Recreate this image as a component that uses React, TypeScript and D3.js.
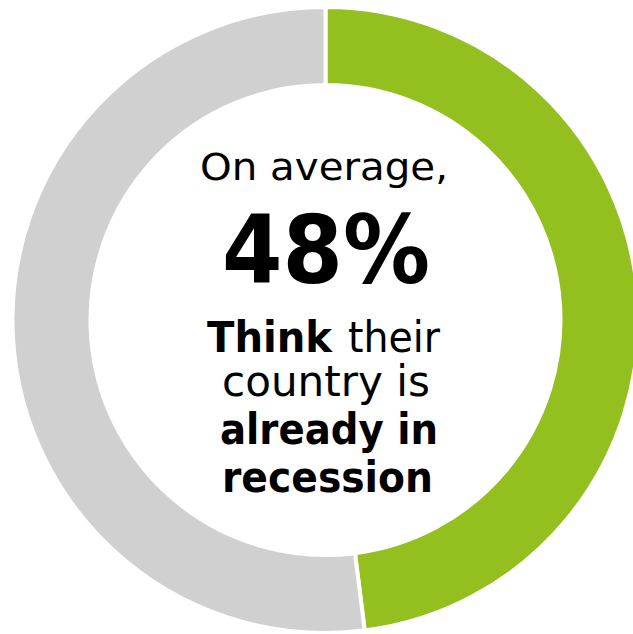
import React from "react";
import * as d3 from "d3";

const categories = ["Think their country is already in recession", "Other"];
const values = [48, 52];
const headline = "48%";
const intro = "On average,";
const captionLines = [
  [{ t: "Think", b: true }, { t: "their", b: false }],
  [{ t: "country is", b: false }],
  [{ t: "already in", b: true }],
  [{ t: "recession", b: true }],
];

const W = 633;
const H = 634;
const cx = 325.5;
const cy = 320;
const outerR = 313;
const innerR = 235;
const palette = ["#93C01F", "#D0D0D0"];
const FONT = "'DejaVu Sans', sans-serif";

// layout: [startX, width] for each segment of each caption line
const capSegs = [
  [[207, 125], [348, 92]],
  [[222, 208]],
  [[220, 218]],
  [[222, 211]],
];
const capBaselines = [352, 396, 444, 492];

export default function App() {
  const pie = d3.pie<number>().sort(null).value((d) => d);
  const arcs = pie(values);
  const arcGen = d3.arc<d3.PieArcDatum<number>>().innerRadius(innerR).outerRadius(outerR);
  const color = d3.scaleOrdinal<string, string>().domain(categories).range(palette);

  return (
    <svg
      width={W}
      height={H}
      style={{ position: "absolute", left: 0, top: 0, display: "block" }}
    >
      <rect width={W} height={H} fill="#fff" />
      <g transform={`translate(${cx},${cy})`}>
        {arcs.map((a, i) => (
          <path
            key={i}
            d={arcGen(a) || ""}
            fill={color(categories[i])}
            stroke="#fff"
            strokeWidth={4}
          />
        ))}
      </g>
      <text
        x={200}
        y={180}
        fontFamily={FONT}
        fontSize={38}
        fill="#000"
        textLength={248}
        lengthAdjust="spacingAndGlyphs"
      >
        {intro}
      </text>
      <text
        x={222}
        y={283}
        fontFamily={FONT}
        fontWeight="bold"
        fontSize={94}
        fill="#000"
        textLength={208}
        lengthAdjust="spacingAndGlyphs"
      >
        {headline}
      </text>
      {captionLines.map((line, i) =>
        line.map((s, j) => (
          <text
            key={`${i}-${j}`}
            x={capSegs[i][j][0]}
            y={capBaselines[i]}
            fontFamily={FONT}
            fontWeight={s.b ? "bold" : "normal"}
            fontSize={42}
            fill="#000"
            textLength={capSegs[i][j][1]}
            lengthAdjust="spacingAndGlyphs"
          >
            {s.t}
          </text>
        ))
      )}
    </svg>
  );
}
